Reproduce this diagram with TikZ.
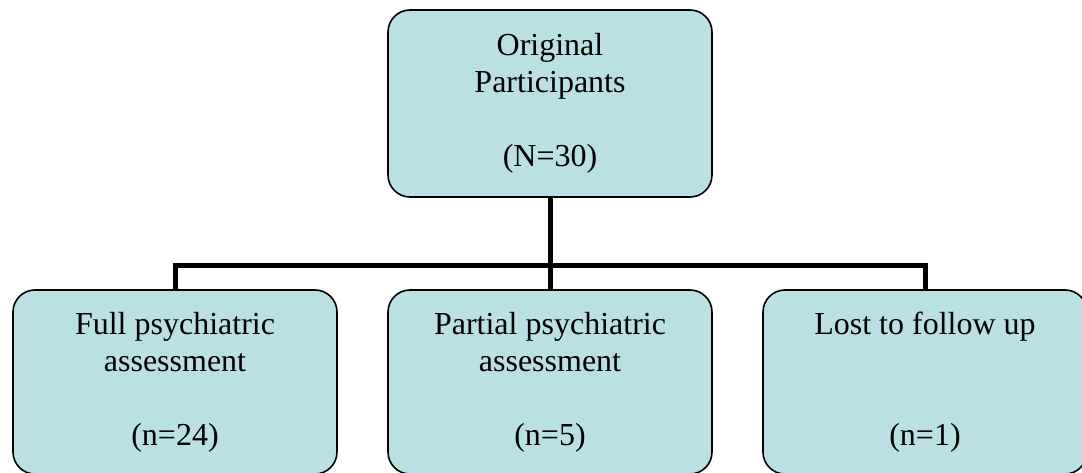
\documentclass[tikz,border=0pt]{standalone}
\usepackage{fontspec}
\setmainfont{Liberation Serif}
\definecolor{boxblue}{RGB}{186,224,227}
\begin{document}
\begin{tikzpicture}[x=1pt,y=1pt,
  box/.style={draw,line width=1.6pt,fill=boxblue,rounded corners=22pt,
    minimum width=324pt,align=center,inner sep=0pt,
    font=\fontsize{32}{37}\selectfont},
  link/.style={line width=5pt}]
\useasboundingbox (0,0) rectangle (1082,472);

\node[box,minimum height=187pt] (top) at (550,368.5) {Original\\Participants\\[37pt](N=30)};
\node[box,minimum height=184pt] (full) at (175,90) {Full psychiatric\\assessment\\[37pt](n=24)};
\node[box,minimum height=184pt] (part) at (550,90) {Partial psychiatric\\assessment\\[37pt](n=5)};
\node[box,minimum height=184pt] (lost) at (925,90) {Lost to follow up\\[74pt](n=1)};

\coordinate (hub) at ([yshift=-68pt]top.south);
\draw[link] (top.south) -- (hub);
\draw[link] (full.north) |- (hub) -| (lost.north);
\draw[link] (hub) -- (part.north);
\end{tikzpicture}
\end{document}
